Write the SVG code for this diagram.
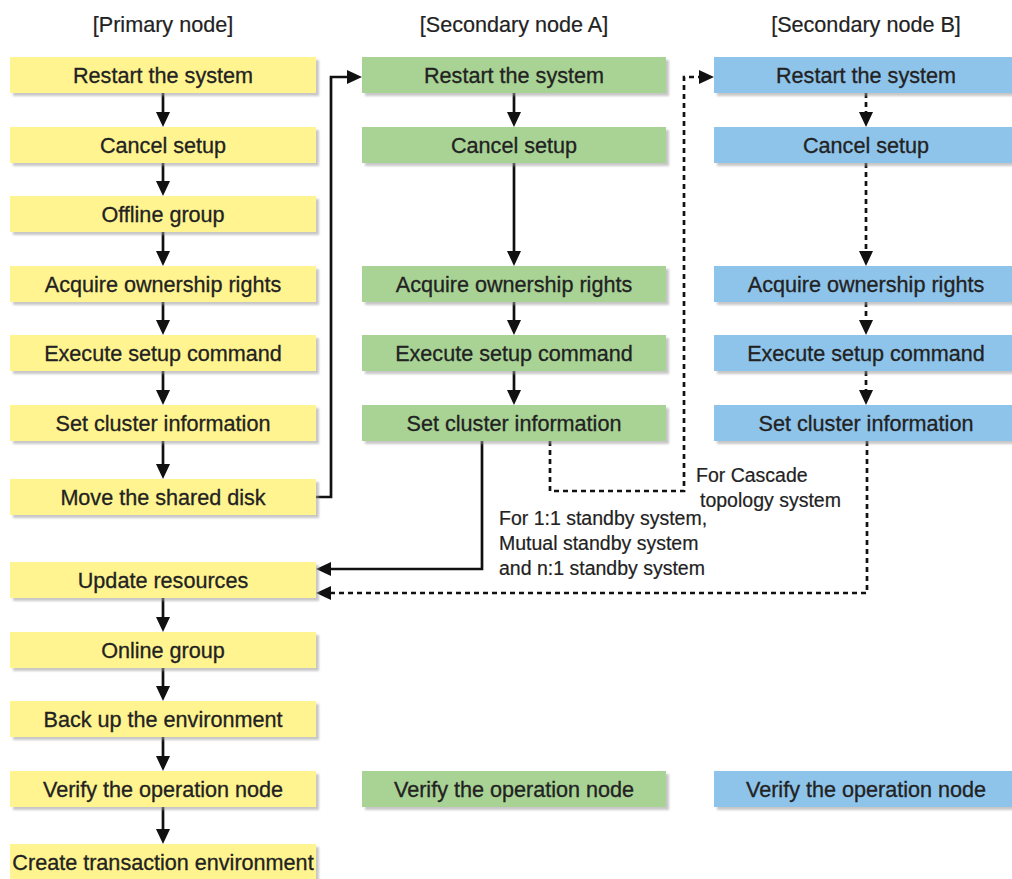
<svg xmlns="http://www.w3.org/2000/svg" width="1012" height="879" viewBox="0 0 1012 879">
<style>
  .t { font-family: "Liberation Sans", Arial, sans-serif; font-size: 21.6px; fill: #222; stroke: #222; stroke-width: 0.3; text-anchor: middle; }
  .h { font-family: "Liberation Sans", Arial, sans-serif; font-size: 21.6px; fill: #222; stroke: #222; stroke-width: 0.2; text-anchor: middle; }
  .n { font-family: "Liberation Sans", Arial, sans-serif; font-size: 19.5px; fill: #222; stroke: #222; stroke-width: 0.2; }
  .p { fill: #fff48f; }
  .a { fill: #a8d394; }
  .b { fill: #8ec4ea; }
  .sh { fill: #9a9a9a; opacity: 0.55; filter: url(#blur); }
  .c { fill: none; stroke: #111; stroke-width: 2.7; }
  .d { fill: none; stroke: #111; stroke-width: 2.7; stroke-dasharray: 5 4; }
</style>
<defs>
  <filter id="blur" x="-5%" y="-20%" width="110%" height="140%"><feGaussianBlur stdDeviation="1"/></filter>
  <marker id="ah" markerUnits="userSpaceOnUse" markerWidth="15" markerHeight="15" viewBox="0 0 15 15" refX="11" refY="7.5" orient="auto">
    <path d="M0,0.5 L15,7.5 L0,14.5 z" fill="#111"/>
  </marker>
</defs>
<rect width="1012" height="879" fill="#fff"/>

<g id="titles">
  <text class="h" x="163" y="32">[Primary node]</text>
  <text class="h" x="514" y="32">[Secondary node A]</text>
  <text class="h" x="866" y="32">[Secondary node B]</text>
</g>

<g id="connectors">
  <!-- primary chain -->
  <path class="c" marker-end="url(#ah)" d="M163,93 V123"/>
  <path class="c" marker-end="url(#ah)" d="M163,163 V192"/>
  <path class="c" marker-end="url(#ah)" d="M163,232 V262"/>
  <path class="c" marker-end="url(#ah)" d="M163,302 V331"/>
  <path class="c" marker-end="url(#ah)" d="M163,371 V401"/>
  <path class="c" marker-end="url(#ah)" d="M163,441 V475"/>
  <path class="c" marker-end="url(#ah)" d="M163,598 V628"/>
  <path class="c" marker-end="url(#ah)" d="M163,668 V697"/>
  <path class="c" marker-end="url(#ah)" d="M163,737 V767"/>
  <path class="c" marker-end="url(#ah)" d="M163,807 V840"/>
  <!-- move shared disk to A -->
  <path class="c" marker-end="url(#ah)" d="M316,497 H331 V77 H358"/>
  <!-- A chain -->
  <path class="c" marker-end="url(#ah)" d="M514,93 V123"/>
  <path class="c" marker-end="url(#ah)" d="M514,163 V262"/>
  <path class="c" marker-end="url(#ah)" d="M514,302 V331"/>
  <path class="c" marker-end="url(#ah)" d="M514,371 V401"/>
  <!-- A to Update resources -->
  <path class="c" marker-end="url(#ah)" d="M482,441 V569 H320"/>
  <!-- A to B cascade -->
  <path class="d" marker-end="url(#ah)" d="M550,441 V491 H684 V77 H710"/>
  <!-- B chain -->
  <path class="d" marker-end="url(#ah)" d="M866,93 V123"/>
  <path class="d" marker-end="url(#ah)" d="M866,163 V262"/>
  <path class="d" marker-end="url(#ah)" d="M866,302 V331"/>
  <path class="d" marker-end="url(#ah)" d="M866,371 V401"/>
  <!-- B to Update resources -->
  <path class="d" marker-end="url(#ah)" d="M867,441 V593 H320"/>
</g>

<g id="labels">
  <text class="n" x="696" y="482">For Cascade</text>
  <text class="n" x="700" y="507">topology system</text>
  <text class="n" x="499" y="525">For 1:1 standby system,</text>
  <text class="n" x="499" y="550">Mutual standby system</text>
  <text class="n" x="499" y="575">and n:1 standby system</text>
</g>

<!-- Primary node -->
<g id="p1"><rect class="sh" x="13" y="60" width="306" height="36"/><rect class="p" x="10" y="57" width="306" height="36"/><text class="t" x="163" y="83">Restart the system</text></g>
<g id="p2"><rect class="sh" x="13" y="130" width="306" height="36"/><rect class="p" x="10" y="127" width="306" height="36"/><text class="t" x="163" y="153">Cancel setup</text></g>
<g id="p3"><rect class="sh" x="13" y="199" width="306" height="36"/><rect class="p" x="10" y="196" width="306" height="36"/><text class="t" x="163" y="222">Offline group</text></g>
<g id="p4"><rect class="sh" x="13" y="269" width="306" height="36"/><rect class="p" x="10" y="266" width="306" height="36"/><text class="t" x="163" y="292">Acquire ownership rights</text></g>
<g id="p5"><rect class="sh" x="13" y="338" width="306" height="36"/><rect class="p" x="10" y="335" width="306" height="36"/><text class="t" x="163" y="361">Execute setup command</text></g>
<g id="p6"><rect class="sh" x="13" y="408" width="306" height="36"/><rect class="p" x="10" y="405" width="306" height="36"/><text class="t" x="163" y="431">Set cluster information</text></g>
<g id="p7"><rect class="sh" x="13" y="482" width="306" height="36"/><rect class="p" x="10" y="479" width="306" height="36"/><text class="t" x="163" y="505">Move the shared disk</text></g>
<g id="p8"><rect class="sh" x="13" y="565" width="306" height="36"/><rect class="p" x="10" y="562" width="306" height="36"/><text class="t" x="163" y="588">Update resources</text></g>
<g id="p9"><rect class="sh" x="13" y="635" width="306" height="36"/><rect class="p" x="10" y="632" width="306" height="36"/><text class="t" x="163" y="658">Online group</text></g>
<g id="p10"><rect class="sh" x="13" y="704" width="306" height="36"/><rect class="p" x="10" y="701" width="306" height="36"/><text class="t" x="163" y="727">Back up the environment</text></g>
<g id="p11"><rect class="sh" x="13" y="774" width="306" height="36"/><rect class="p" x="10" y="771" width="306" height="36"/><text class="t" x="163" y="797">Verify the operation node</text></g>
<g id="p12"><rect class="sh" x="13" y="847" width="306" height="36"/><rect class="p" x="10" y="844" width="306" height="36"/><text class="t" x="163" y="870">Create transaction environment</text></g>

<!-- Secondary node A -->
<g id="a1"><rect class="sh" x="365" y="60" width="304" height="36"/><rect class="a" x="362" y="57" width="304" height="36"/><text class="t" x="514" y="83">Restart the system</text></g>
<g id="a2"><rect class="sh" x="365" y="130" width="304" height="36"/><rect class="a" x="362" y="127" width="304" height="36"/><text class="t" x="514" y="153">Cancel setup</text></g>
<g id="a3"><rect class="sh" x="365" y="269" width="304" height="36"/><rect class="a" x="362" y="266" width="304" height="36"/><text class="t" x="514" y="292">Acquire ownership rights</text></g>
<g id="a4"><rect class="sh" x="365" y="338" width="304" height="36"/><rect class="a" x="362" y="335" width="304" height="36"/><text class="t" x="514" y="361">Execute setup command</text></g>
<g id="a5"><rect class="sh" x="365" y="408" width="304" height="36"/><rect class="a" x="362" y="405" width="304" height="36"/><text class="t" x="514" y="431">Set cluster information</text></g>
<g id="a6"><rect class="sh" x="365" y="774" width="304" height="36"/><rect class="a" x="362" y="771" width="304" height="36"/><text class="t" x="514" y="797">Verify the operation node</text></g>

<!-- Secondary node B -->
<g id="b1"><rect class="sh" x="717" y="60" width="304" height="36"/><rect class="b" x="714" y="57" width="304" height="36"/><text class="t" x="866" y="83">Restart the system</text></g>
<g id="b2"><rect class="sh" x="717" y="130" width="304" height="36"/><rect class="b" x="714" y="127" width="304" height="36"/><text class="t" x="866" y="153">Cancel setup</text></g>
<g id="b3"><rect class="sh" x="717" y="269" width="304" height="36"/><rect class="b" x="714" y="266" width="304" height="36"/><text class="t" x="866" y="292">Acquire ownership rights</text></g>
<g id="b4"><rect class="sh" x="717" y="338" width="304" height="36"/><rect class="b" x="714" y="335" width="304" height="36"/><text class="t" x="866" y="361">Execute setup command</text></g>
<g id="b5"><rect class="sh" x="717" y="408" width="304" height="36"/><rect class="b" x="714" y="405" width="304" height="36"/><text class="t" x="866" y="431">Set cluster information</text></g>
<g id="b6"><rect class="sh" x="717" y="774" width="304" height="36"/><rect class="b" x="714" y="771" width="304" height="36"/><text class="t" x="866" y="797">Verify the operation node</text></g>
</svg>
